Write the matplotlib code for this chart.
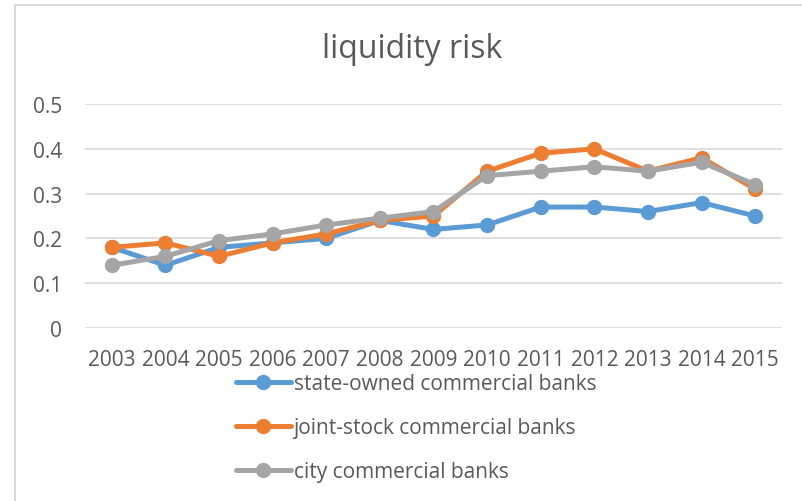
import numpy as np
import matplotlib.pyplot as plt
from matplotlib.lines import Line2D

# [DATA] ======================================================================
years = ['2003', '2004', '2005', '2006', '2007', '2008', '2009',
         '2010', '2011', '2012', '2013', '2014', '2015']
state_owned = [0.18, 0.14, 0.18, 0.19, 0.20, 0.24, 0.22,
               0.23, 0.27, 0.27, 0.26, 0.28, 0.25]
joint_stock = [0.18, 0.19, 0.16, 0.19, 0.21, 0.24, 0.25,
               0.35, 0.39, 0.40, 0.35, 0.38, 0.31]
city = [0.14, 0.16, 0.195, 0.21, 0.23, 0.245, 0.26,
        0.34, 0.35, 0.36, 0.35, 0.37, 0.32]
yticks = [0, 0.1, 0.2, 0.3, 0.4, 0.5]
ytick_labels = ['0', '0.1', '0.2', '0.3', '0.4', '0.5']
series_names = ['state-owned commercial banks',
                'joint-stock commercial banks',
                'city commercial banks']
# [END DATA] ==================================================================

# [PLOTTING] ==================================================================
plt.rcParams['font.family'] = ['Open Sans', 'DejaVu Sans']
text_color = '#595959'
colors = ['#5B9BD5', '#ED7D31', '#A5A5A5']

W, H = 803, 502
fig = plt.figure(figsize=(W / 100, H / 100), dpi=100)
ax = fig.add_axes([85 / W, 1 - 329 / H, (782 - 85) / W, (329 - 105) / H])

x = np.arange(len(years))
for vals, c, name in zip([state_owned, joint_stock, city], colors, series_names):
    ax.plot(x, vals, color=c, lw=3.6, marker='o', ms=10, label=name,
            solid_capstyle='round', solid_joinstyle='round')

ax.set_xlim(-0.5, len(years) - 0.5)
ax.set_ylim(0, 0.5)
ax.set_yticks(yticks)
ax.set_yticklabels(ytick_labels)
ax.set_xticks(x)
ax.set_xticklabels(years)
ax.tick_params(length=0, labelsize=15, colors=text_color)
ax.tick_params(axis='y', pad=16.5)
ax.tick_params(axis='x', pad=15)
ax.grid(axis='y', color='#D9D9D9', lw=1.2)
ax.set_axisbelow(True)
for s in ax.spines.values():
    s.set_visible(False)

fig.text(412 / W, 1 - 50 / H, 'liquidity risk', ha='center', va='center',
         fontsize=23, color=text_color)

leg = fig.legend(loc='upper left', bbox_to_anchor=(228 / W, 1 - 366 / H),
                 frameon=False, fontsize=15, handlelength=2.6,
                 handletextpad=0.15, labelspacing=1.1, borderaxespad=0)
for t in leg.get_texts():
    t.set_color(text_color)

# chart border (left and top edges visible)
fig.add_artist(Line2D([15 / W, 15 / W], [0, 1 - 6 / H], color='#D9D9D9', lw=1.5))
fig.add_artist(Line2D([15 / W, 1], [1 - 6 / H, 1 - 6 / H], color='#D9D9D9', lw=1.5))

fig.savefig('out.png', dpi=100)
# [END PLOTTING] ==============================================================
